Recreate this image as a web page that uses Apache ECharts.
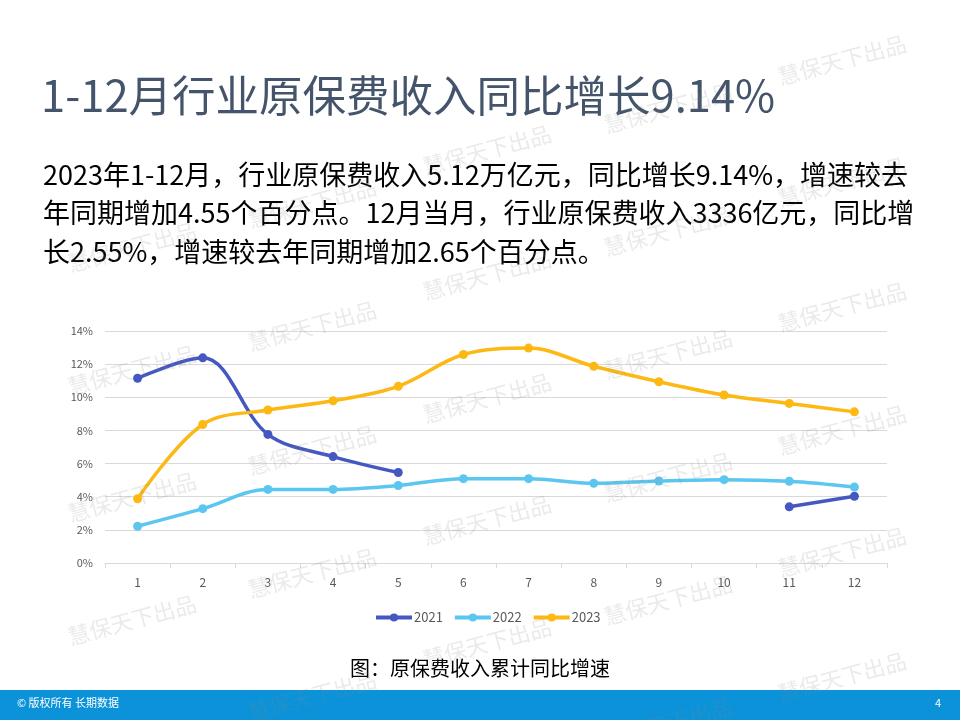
<!DOCTYPE html>
<html>
<head>
<meta charset="utf-8">
<script src="https://cdn.jsdelivr.net/npm/echarts@6/dist/echarts.min.js"></script>
<style>
html,body{margin:0;padding:0;background:#fff;}
#chart{width:960px;height:720px;}
</style>
</head>
<body>
<div id="chart"></div>
<script>
// ---- data ----
var months = ['1','2','3','4','5','6','7','8','9','10','11','12'];
var seriesNames = ['2021','2022','2023'];
var y2021 = [11.15, 12.38, 7.76, 6.42, 5.46, null, null, null, null, null, 3.39, 4.03];
var y2022 = [2.22, 3.28, 4.44, 4.44, 4.68, 5.09, 5.09, 4.81, 4.95, 5.03, 4.93, 4.58];
var y2023 = [3.88, 8.36, 9.23, 9.79, 10.66, 12.58, 12.97, 11.87, 10.94, 10.14, 9.63, 9.12];
var titleText = '1-12月行业原保费收入同比增长9.14%';
var bodyLines = [
  '2023年1-12月，行业原保费收入5.12万亿元，同比增长9.14%，增速较去',
  '年同期增加4.55个百分点。12月当月，行业原保费收入3336亿元，同比增',
  '长2.55%，增速较去年同期增加2.65个百分点。'
];
var captionText = '图：原保费收入累计同比增速';
var footerLeft = '© 版权所有 长期数据';
var footerRight = '4';
var watermarkText = '慧保天下出品';

var colors = ['#4558C1', '#5BC6EF', '#FDB813'];
var cjk = '"Microsoft YaHei","Noto Sans CJK SC","Noto Sans",sans-serif';

// watermark grid (column x, rows y)
var wmCols = [
  {x: 132, ys: [247, 370, 497, 620]},
  {x: 312, ys: [203, 326, 450, 573, 696]},
  {x: 487, ys: [150, 275, 398, 520, 643]},
  {x: 668, ys: [108, 231, 354, 477, 600, 723]},
  {x: 842, ys: [60, 182, 307, 430, 552, 677]}
];

var graphics = [];
// footer bar
graphics.push({type:'rect', left:0, top:690, shape:{width:960, height:30}, style:{fill:'#0B92D8'}, z:1});
graphics.push({type:'text', left:17, top:697, style:{text:footerLeft, fill:'#ffffff', font:'11px ' + cjk}, z:2});
graphics.push({type:'text', left:935, top:697, style:{text:footerRight, fill:'#ffffff', font:'11px ' + cjk}, z:2});
// title
graphics.push({type:'text', left:41, top:74, style:{text:titleText, fill:'#44546A', font:'43.5px ' + cjk}, z:2});
// body text
bodyLines.forEach(function(t, i){
  graphics.push({type:'text', left:43, top:161 + i*38.5, style:{text:t, fill:'#000000', font:'27px ' + cjk}, z:2});
});
// caption
graphics.push({type:'text', x:480, y:668, style:{text:captionText, fill:'#000000', font:'20px ' + cjk, textAlign:'center', textVerticalAlign:'middle'}, z:2});
// watermarks
wmCols.forEach(function(c){
  c.ys.forEach(function(y){
    graphics.push({type:'text', x:c.x, y:y, rotation: 15*Math.PI/180,
      style:{text:watermarkText, fill:'rgba(140,140,140,0.18)', font:'22px ' + cjk, textAlign:'center', textVerticalAlign:'middle'}, z:100, silent:true});
  });
});

var chart = echarts.init(document.getElementById('chart'), null, {renderer:'canvas'});
function mkSeries(name, data, color){
  return {
    name: name, type:'line', data: data, smooth: 0.35, connectNulls:false,
    symbol:'circle', symbolSize:9, showSymbol:true,
    lineStyle:{width:3.5, color:color}, itemStyle:{color:color},
    z: 5
  };
}
chart.setOption({
  backgroundColor:'#ffffff',
  animation:false,
  color: colors,
  grid:{left:105, right:73, top:331, bottom:157, containLabel:false},
  legend:{
    data: seriesNames, top:606, left:369, itemWidth:36, itemHeight:10, itemGap:10,
    lineStyle:{width:4},
    textStyle:{color:'#595959', fontSize:13, fontFamily:cjk, padding:[0,0,0,-3]}
  },
  xAxis:{
    type:'category', data: months, boundaryGap:true,
    axisLine:{lineStyle:{color:'#D9D9D9', width:1}},
    axisTick:{show:true, length:5, lineStyle:{color:'#D9D9D9'}},
    axisLabel:{color:'#595959', fontSize:12, margin:13, fontFamily:cjk}
  },
  yAxis:{
    type:'value', min:0, max:14, interval:2,
    axisLine:{show:false}, axisTick:{show:false},
    splitLine:{lineStyle:{color:'#D9D9D9', width:1}},
    axisLabel:{color:'#595959', fontSize:11, margin:12, formatter:'{value}%', fontFamily:cjk}
  },
  series:[
    mkSeries(seriesNames[0], y2021, colors[0]),
    mkSeries(seriesNames[1], y2022, colors[1]),
    mkSeries(seriesNames[2], y2023, colors[2])
  ],
  graphic: graphics
});
</script>
</body>
</html>
